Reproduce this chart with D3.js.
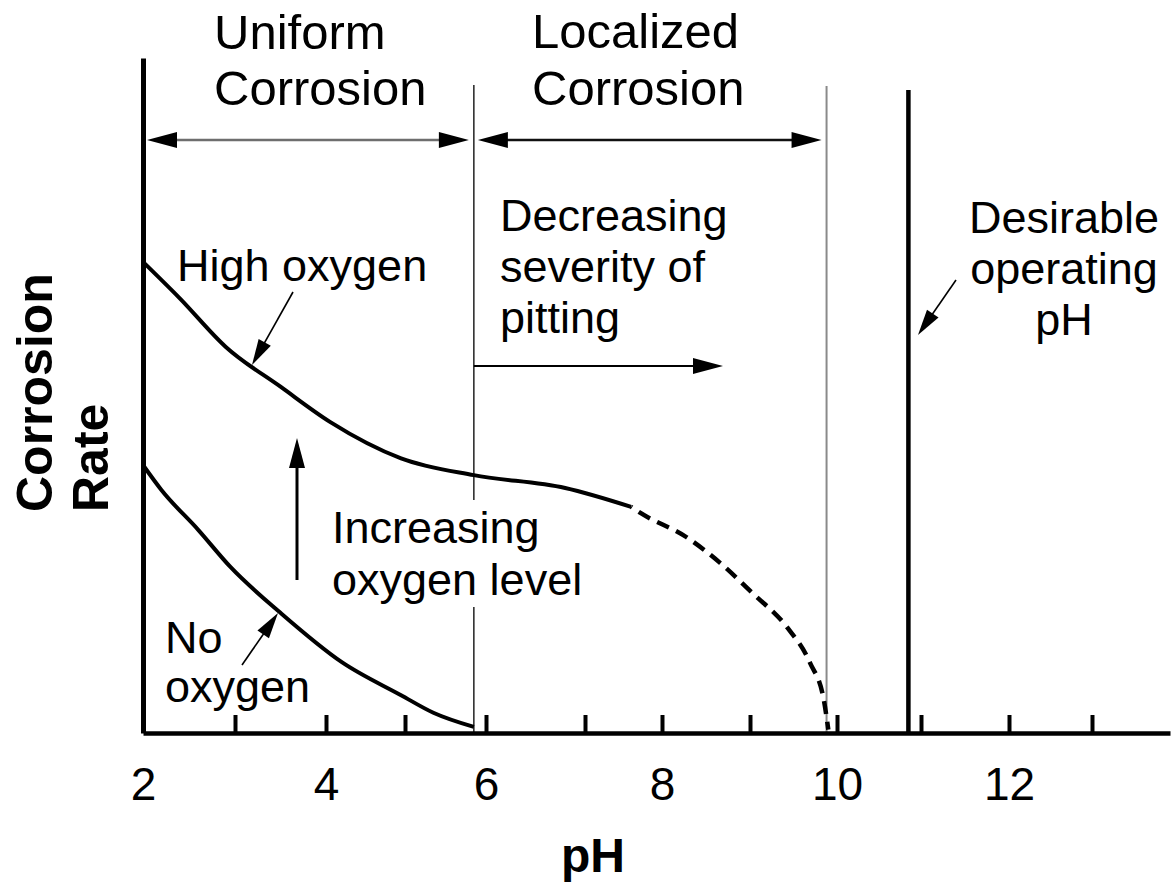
<!DOCTYPE html>
<html>
<head>
<meta charset="utf-8">
<script src="https://cdn.jsdelivr.net/npm/d3@7"></script>
<style>
  html, body { margin: 0; background: #fff; }
  svg { display: block; }
  text { font-family: "Liberation Sans", Arial, sans-serif; fill: #000; }
</style>
</head>
<body>
<svg id="chart" width="1175" height="883"></svg>
<script>
// ---- data -------------------------------------------------------------
const xTickValues = [2, 3, 4, 5, 6, 7, 8, 9, 10, 11, 12, 13];
const xTickLabels = [2, 4, 6, 8, 10, 12];

// Corrosion rate (relative units, 0-100) against pH
const highOxygenPH   = [2.0, 2.4, 2.9, 3.5, 4.05, 4.95, 5.85, 6.8, 7.6];
const highOxygenRate = [69.8, 64.4, 57.2, 51.3, 46.1, 40.7, 38.2, 36.3, 33.5];

// extrapolated tail of the high-oxygen curve (dashed)
const highTailPH   = [7.6, 7.72, 8.28, 8.66, 9.03, 9.43, 9.69, 9.85, 9.9];
const highTailRate = [33.5, 32.6, 29.0, 25.2, 20.7, 15.6, 10.4, 4.8, 0.5];

const noOxygenPH   = [2.0, 2.2, 2.6, 2.95, 3.5, 4.2, 4.95, 5.35, 5.85];
const noOxygenRate = [39.7, 36.0, 30.1, 24.6, 17.8, 10.5, 5.6, 3.0, 0.9];

// region limits and the recommended operating point (pH)
const regionBounds   = [2, 5.85, 9.88];
const regionNames    = [["Uniform", "Corrosion"], ["Localized", "Corrosion"]];
const desirablePH    = 10.85;

// ---- scales -----------------------------------------------------------
const svg = d3.select("#chart");

// hand-drawn axis: tick spacing is not perfectly even, so a piecewise scale
const x = d3.scaleLinear()
  .domain([2, 3, 4, 5, 6, 7, 8, 9, 10, 11, 12, 13, 13.93])
  .range([143, 235, 326, 405, 486, 585, 662, 750, 837, 921, 1009, 1092, 1170]);

const y = d3.scaleLinear().domain([0, 100]).range([733, 58]);

const zip = (a, b) => a.map((v, i) => [v, b[i]]);

// ---- helpers ----------------------------------------------------------
function arrow(g, x1, y1, x2, y2, opt) {
  const o = Object.assign({ len: 26, half: 7, width: 1.6, color: "#000", head: "#000", both: false }, opt || {});
  const dx = x2 - x1, dy = y2 - y1, L = Math.hypot(dx, dy);
  const ux = dx / L, uy = dy / L, nx = -uy, ny = ux;
  const sx = o.both ? x1 + ux * (o.len - 2) : x1;
  const sy = o.both ? y1 + uy * (o.len - 2) : y1;
  g.append("line")
    .attr("x1", sx).attr("y1", sy)
    .attr("x2", x2 - ux * (o.len - 2)).attr("y2", y2 - uy * (o.len - 2))
    .attr("stroke", o.color).attr("stroke-width", o.width);
  const head = (tx, ty, vx, vy) => {
    const bx = tx - vx * o.len, by = ty - vy * o.len;
    g.append("path")
      .attr("d", `M${tx},${ty}L${bx + nx * o.half},${by + ny * o.half}L${bx - nx * o.half},${by - ny * o.half}Z`)
      .attr("fill", o.head);
  };
  head(x2, y2, ux, uy);
  if (o.both) head(x1, y1, -ux, -uy);
}

function textBlock(g, lines, px, py, step, size, anchor, weight) {
  const t = g.append("text")
    .attr("font-size", size)
    .attr("text-anchor", anchor || "start")
    .attr("font-weight", weight || "normal");
  lines.forEach((s, i) => t.append("tspan").attr("x", px).attr("y", py + i * step).text(s));
  return t;
}

// ---- region boundaries ------------------------------------------------
const bounds = svg.append("g");
bounds.append("line")
  .attr("x1", x(regionBounds[1])).attr("x2", x(regionBounds[1]))
  .attr("y1", 85).attr("y2", y(0))
  .attr("stroke", "#222").attr("stroke-width", 1.5);
bounds.append("line")
  .attr("x1", x(regionBounds[2])).attr("x2", x(regionBounds[2]))
  .attr("y1", 86).attr("y2", y(0))
  .attr("stroke", "#8a8a8a").attr("stroke-width", 2);

// desirable operating pH
svg.append("line")
  .attr("x1", x(desirablePH)).attr("x2", x(desirablePH))
  .attr("y1", 90).attr("y2", y(0))
  .attr("stroke", "#000").attr("stroke-width", 4.5);

// ---- region headers and span arrows -----------------------------------
const hdr = svg.append("g");
textBlock(hdr, regionNames[0], 214, 49, 56, 49);
textBlock(hdr, regionNames[1], 532, 48, 57, 49);
arrow(hdr, x(regionBounds[0]) + 4, 140, x(regionBounds[1]) - 5, 140,
  { both: true, len: 30, half: 8, width: 2.5, color: "#6e6e6e" });
arrow(hdr, x(regionBounds[1]) + 4, 140, x(regionBounds[2]) - 5, 140,
  { both: true, len: 30, half: 8, width: 2.5, color: "#111" });

// ---- axes -------------------------------------------------------------
const xAxis = svg.append("g")
  .attr("transform", `translate(0,${y(0)})`)
  .call(d3.axisBottom(x)
    .tickValues(xTickValues)
    .tickSize(-18)
    .tickSizeOuter(0)
    .tickPadding(34)
    .tickFormat(d => xTickLabels.includes(d) ? d : ""));
xAxis.select(".domain").attr("stroke", "#000").attr("stroke-width", 4.5);
xAxis.selectAll(".tick line").attr("stroke", "#000").attr("stroke-width", 4);
xAxis.selectAll(".tick text")
  .attr("font-size", 46)
  .attr("font-family", "Liberation Sans, Arial, sans-serif")
  .attr("fill", "#000");

const yAxis = svg.append("g")
  .attr("transform", `translate(${x(2)},0)`)
  .call(d3.axisLeft(y).tickValues([]).tickSizeOuter(0));
yAxis.select(".domain").attr("stroke", "#000").attr("stroke-width", 5);

// axis titles
svg.append("text")
  .attr("x", 593).attr("y", 872)
  .attr("text-anchor", "middle")
  .attr("font-size", 48).attr("font-weight", "bold")
  .text("pH");

const yTitle = svg.append("g").attr("transform", "translate(52,512) rotate(-90)");
yTitle.append("text").attr("x", 0).attr("y", 0)
  .attr("font-size", 50).attr("font-weight", "bold").text("Corrosion");
yTitle.append("text").attr("x", 0).attr("y", 56)
  .attr("font-size", 50).attr("font-weight", "bold").text("Rate");

// ---- curves -----------------------------------------------------------
const line = d3.line()
  .x(d => x(d[0]))
  .y(d => y(d[1]))
  .curve(d3.curveMonotoneX);

const curves = svg.append("g").attr("fill", "none").attr("stroke", "#000")
  .attr("stroke-linecap", "butt").attr("stroke-linejoin", "round");
curves.append("path").attr("d", line(zip(highOxygenPH, highOxygenRate))).attr("stroke-width", 4);
curves.append("path").attr("d", line(zip(highTailPH, highTailRate)))
  .attr("stroke-width", 4.5).attr("stroke-dasharray", "13,8").attr("stroke-dashoffset", -9);
curves.append("path").attr("d", line(zip(noOxygenPH, noOxygenRate))).attr("stroke-width", 4);

// ---- annotations ------------------------------------------------------
const ann = svg.append("g");

// increasing oxygen level (text masks the boundary line behind it)
const incText = textBlock(ann, ["Increasing", "oxygen level"], 332, 543, 52, 45);
const bb = incText.node().getBBox();
ann.insert("rect", () => incText.node())
  .attr("x", bb.x - 3).attr("y", bb.y - 2)
  .attr("width", bb.width + 6).attr("height", bb.height + 4)
  .attr("fill", "#fff");
arrow(ann, 297, 580, 297, 438, { len: 30, half: 8, width: 3 });

textBlock(ann, ["High oxygen"], 177, 281, 0, 45);
arrow(ann, 293, 292, 252, 365, { len: 26, half: 7, width: 1.6 });

textBlock(ann, ["No", "oxygen"], 165, 653, 49, 45);
arrow(ann, 242, 665, 278, 613, { len: 26, half: 7, width: 1.6 });

textBlock(ann, ["Decreasing", "severity of", "pitting"], 500, 231, 51, 45);
arrow(ann, x(regionBounds[1]), 366, 723, 366, { len: 30, half: 8, width: 2.2 });

textBlock(ann, ["Desirable", "operating", "pH"], 1064, 233, 51, 45, "middle");
arrow(ann, 956, 280, 918, 335, { len: 26, half: 7, width: 1.6 });
</script>
</body>
</html>
